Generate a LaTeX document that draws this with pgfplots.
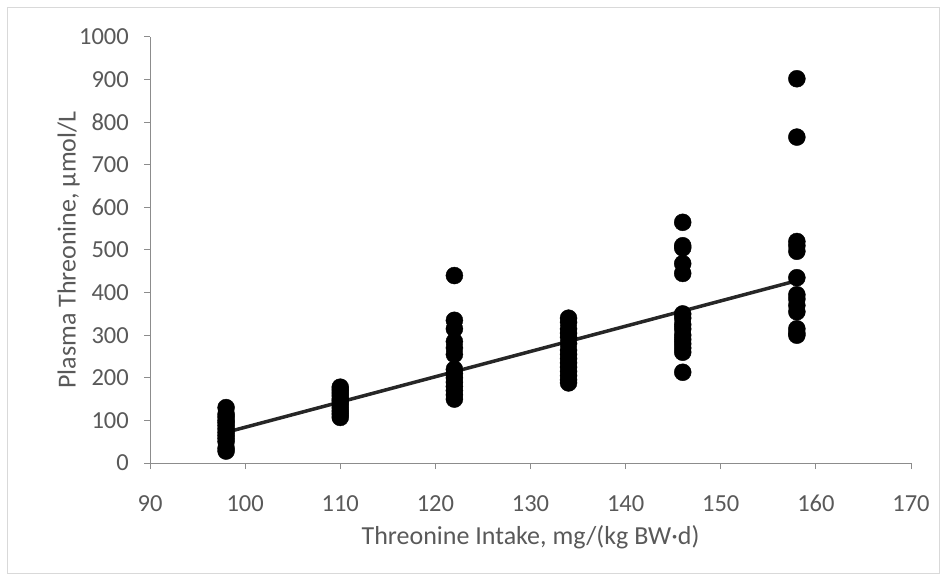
\documentclass[border=0pt]{standalone}
\usepackage{pgfplots}
\pgfplotsset{compat=1.18}
\usepackage{fontspec}
\setmainfont{Carlito}
\definecolor{txt}{HTML}{595959}
\definecolor{axc}{HTML}{8C8C8C}
\definecolor{frm}{HTML}{D9D9D9}
\definecolor{trend}{HTML}{262626}
\begin{document}
\begin{tikzpicture}[x=1pt,y=1pt]
\path[use as bounding box] (0,0) rectangle (947,581);
\draw[frm, line width=1pt] (7.5,7.5) rectangle (939.5,573.5);
\begin{axis}[
  at={(150pt,118pt)}, anchor=south west,
  scale only axis, width=761pt, height=426pt,
  xmin=90, xmax=170, ymin=0, ymax=1000,
  xtick={90,100,...,170}, ytick={0,100,...,1000},
  axis x line=bottom, axis y line=left,
  axis line style={axc, line width=1pt, -},
  tick align=outside, tick style={axc, line width=1pt},
  major tick length=6pt,
  /pgf/number format/assume math mode=true,
  /pgf/number format/1000 sep={},
  tick label style={font=\fontsize{24.5}{24.5}\selectfont, text=txt, inner sep=0pt},
  xticklabel style={anchor=base, yshift=-42pt},
  yticklabel style={anchor=east, xshift=-15pt},
  xlabel={Threonine Intake, mg/(kg BW·d)},
  ylabel={Plasma Threonine, µmol/L},
  label style={font=\fontsize{26}{26}\selectfont, text=txt, inner sep=0pt},
  xlabel style={at={(axis description cs:0.5,0)}, anchor=center, yshift=-74pt},
  ylabel style={at={(axis description cs:-0.107,0.5)}, anchor=center},
  clip=false,
]
\addplot[only marks, mark=*, mark size=8.5pt, mark options={fill=black, draw=black}] coordinates {
(98,28) (98,35) (98,50) (98,58) (98,65) (98,72) (98,80) (98,88) (98,95) (98,100) (98,108) (98,115) (98,130)
(110,107) (110,115) (110,122) (110,130) (110,138) (110,145) (110,150) (110,158) (110,165) (110,172) (110,178)
(122,440) (122,335) (122,315) (122,285) (122,270) (122,255) (122,220) (122,210) (122,200) (122,190) (122,180) (122,170) (122,160) (122,150)
(134,340) (134,330) (134,315) (134,305) (134,295) (134,280) (134,265) (134,255) (134,245) (134,235) (134,225) (134,215) (134,205) (134,195) (134,188)
(146,565) (146,510) (146,505) (146,468) (146,445) (146,350) (146,340) (146,325) (146,315) (146,300) (146,290) (146,280) (146,270) (146,260) (146,213)
(158,902) (158,765) (158,520) (158,510) (158,497) (158,435) (158,395) (158,385) (158,370) (158,355) (158,315) (158,305) (158,300)
};
\addplot[trend, line width=3.5pt] coordinates {(98,72) (158,428)};
\end{axis}
\end{tikzpicture}
\end{document}
